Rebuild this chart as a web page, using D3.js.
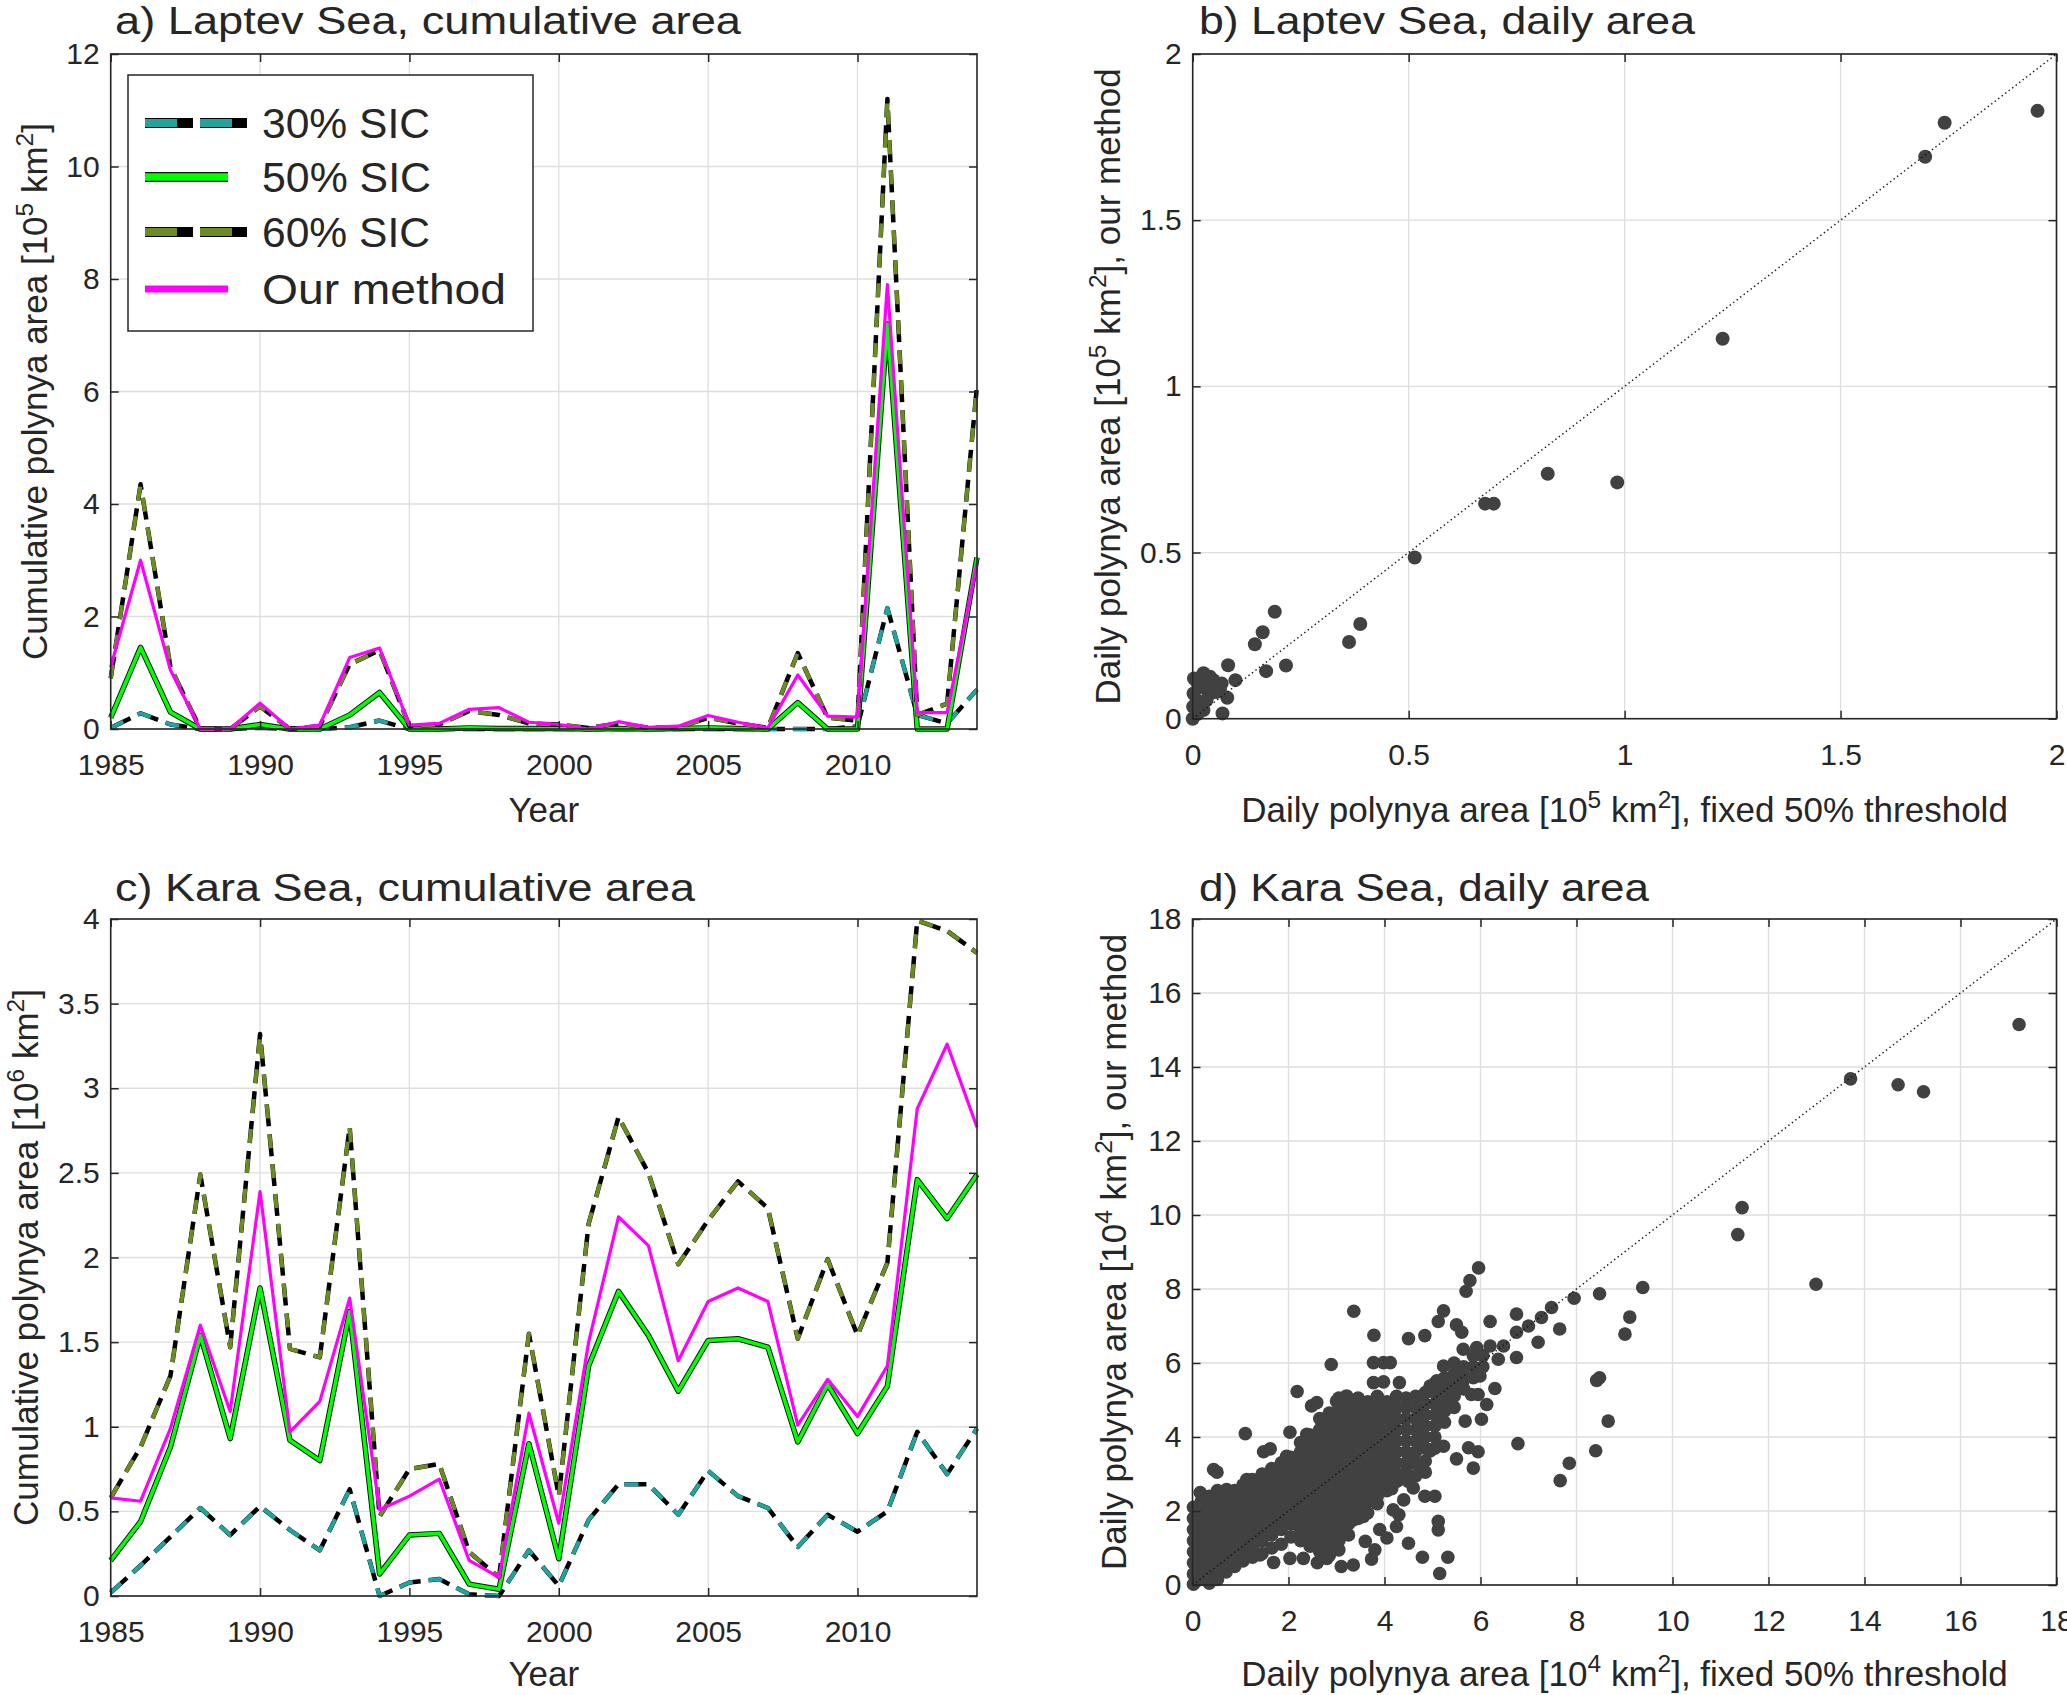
<!DOCTYPE html>
<html>
<head>
<meta charset="utf-8">
<script src="https://cdn.jsdelivr.net/npm/d3@7"></script>
<style>
  body { margin: 0; background: #fff; }
  svg { display: block; }
  text { font-family: "Liberation Sans", Arial, sans-serif; fill: #262626; }
</style>
</head>
<body>
<svg id="fig" width="2067" height="1695"></svg>
<script>
// ---- data ----
const years = [1985, 1986, 1987, 1988, 1989, 1990, 1991, 1992, 1993, 1994,
               1995, 1996, 1997, 1998, 1999, 2000, 2001, 2002, 2003, 2004,
               2005, 2006, 2007, 2008, 2009, 2010, 2011, 2012, 2013, 2014];
const yearTicks = [1985, 1990, 1995, 2000, 2005, 2010];

// Laptev Sea, cumulative area [10^5 km^2]
const laptev30 = [0.02, 0.28, 0.08, 0, 0, 0.02, 0, 0, 0.03, 0.15, 0, 0, 0, 0, 0,
                  0, 0, 0, 0, 0, 0, 0, 0, 0, 0, 0.05, 2.15, 0.25, 0.1, 0.7];
const laptev50 = [0.2, 1.45, 0.3, 0, 0, 0.08, 0, 0, 0.25, 0.65, 0, 0, 0.02, 0.01, 0.01,
                  0.01, 0, 0.01, 0, 0.01, 0.02, 0.01, 0, 0.47, 0, 0, 7.2, 0, 0, 3.05];
const laptev60 = [0.9, 4.35, 1.1, 0, 0, 0.4, 0, 0.05, 1.15, 1.4, 0.05, 0.08, 0.32, 0.25, 0.1,
                  0.08, 0.02, 0.1, 0.02, 0.03, 0.2, 0.1, 0.02, 1.35, 0.2, 0.15, 11.2, 0.25, 0.45, 6.1];
const laptevOurs = [1.1, 3.0, 1.05, 0, 0, 0.46, 0, 0.07, 1.27, 1.44, 0.07, 0.1, 0.35, 0.38, 0.12,
                    0.08, 0, 0.13, 0.03, 0.05, 0.24, 0.12, 0.02, 0.96, 0.23, 0.21, 7.9, 0.29, 0.29, 2.95];
const laptevCumTicks = [0, 2, 4, 6, 8, 10, 12];

// Kara Sea, cumulative area [10^6 km^2]
const kara30 = [0.02, 0.18, 0.35, 0.52, 0.36, 0.53, 0.39, 0.27, 0.63, 0.0, 0.08, 0.1, 0.01, 0.0, 0.27,
                0.06, 0.45, 0.66, 0.66, 0.48, 0.74, 0.59, 0.52, 0.29, 0.48, 0.38, 0.5, 0.97, 0.72, 0.99];
const kara50 = [0.21, 0.44, 0.88, 1.54, 0.93, 1.82, 0.92, 0.8, 1.68, 0.13, 0.36, 0.37, 0.07, 0.04, 0.9,
                0.22, 1.36, 1.8, 1.54, 1.21, 1.51, 1.52, 1.47, 0.91, 1.25, 0.96, 1.24, 2.46, 2.23, 2.49];
const kara60 = [0.58, 0.88, 1.3, 2.49, 1.47, 3.32, 1.46, 1.41, 2.77, 0.47, 0.75, 0.78, 0.26, 0.11, 1.55,
                0.59, 2.2, 2.83, 2.5, 1.96, 2.22, 2.45, 2.29, 1.52, 1.99, 1.54, 1.97, 3.99, 3.93, 3.8];
const karaOurs = [0.58, 0.56, 0.99, 1.6, 1.09, 2.39, 0.97, 1.15, 1.76, 0.51, 0.59, 0.69, 0.21, 0.11, 1.08,
                  0.43, 1.5, 2.24, 2.07, 1.39, 1.74, 1.82, 1.74, 1.01, 1.28, 1.06, 1.36, 2.88, 3.26, 2.77];
const karaCumTicks = [0, 0.5, 1, 1.5, 2, 2.5, 3, 3.5, 4];

// Laptev Sea, daily area [10^5 km^2]: [fixed 50% threshold, our method]
const laptevDaily = [
  [1.956, 1.829], [1.741, 1.793], [1.696, 1.691], [1.227, 1.143], [0.822, 0.737], [0.983, 0.711],
  [0.677, 0.647], [0.697, 0.647], [0.514, 0.485], [0.388, 0.285], [0.362, 0.231], [0.190, 0.322],
  [0.162, 0.260], [0.144, 0.224], [0.216, 0.160], [0.170, 0.143], [0.082, 0.161], [0.099, 0.116],
  [0.080, 0.063], [0.069, 0.016], [0.003, 0.121], [0.025, 0.137], [0.056, 0.106], [0.063, 0.086],
  [0.025, 0.026], [0.0, 0.0], [0.040, 0.076], [0.009, 0.056], [0.002, 0.076], [0.017, 0.096],
  [0.048, 0.116], [0.005, 0.036], [0.032, 0.056], [0.001, 0.036], [0.067, 0.106], [0.040, 0.126],
  [0.012, 0.015], [0.020, 0.100], [0.055, 0.080], [0.030, 0.090], [0.010, 0.110]
];
const laptevDailyTicks = [0, 0.5, 1, 1.5, 2];

// Kara Sea, daily area [10^4 km^2]: [fixed 50% threshold, our method]
const karaDaily = [
  // isolated points
  [17.22, 15.15], [13.71, 13.68], [14.70, 13.52], [15.23, 13.33], [11.45, 10.20], [11.36, 9.47],
  [12.99, 8.13], [9.38, 8.04], [9.11, 7.24], [9.01, 6.78], [8.48, 7.87], [7.95, 7.75],
  [8.42, 5.53], [8.48, 5.60], [8.66, 4.43], [8.40, 3.63], [7.85, 3.29], [7.66, 2.82],
  [6.78, 3.82], [5.96, 8.57], [5.78, 8.23], [5.70, 7.94], [3.36, 7.40], [2.89, 5.96],
  [2.18, 5.23], [1.10, 4.09], [5.15, 0.31], [5.32, 0.75], [4.79, 0.75],
  // upper spread near the diagonal
  [7.27, 7.23], [7.48, 7.50], [7.65, 6.92], [7.20, 6.56], [7.00, 7.00], [6.75, 6.83],
  [6.75, 7.32], [6.75, 6.15], [6.37, 6.10], [6.48, 6.46], [6.20, 6.46], [5.92, 6.42],
  [5.64, 6.37], [5.50, 5.92], [5.23, 5.92], [6.20, 7.12], [5.50, 7.03], [5.61, 6.83],
  [5.23, 7.41], [5.12, 7.12], [4.84, 6.74], [4.50, 6.66], [3.78, 6.75], [3.77, 6.01],
  [3.98, 6.01], [4.12, 6.01], [3.77, 5.47], [3.98, 5.49], [4.31, 5.47], [4.95, 5.38],
  [5.09, 5.52],
  // lower spread
  [6.02, 4.48], [5.68, 4.43], [6.13, 4.88], [6.30, 5.31], [5.81, 5.15], [5.95, 5.15],
  [5.64, 5.52], [5.99, 5.65], [5.75, 3.71], [5.95, 3.60], [5.85, 3.16], [5.50, 3.41],
  [5.23, 3.75], [4.95, 3.62], [4.74, 3.20], [4.60, 3.30], [4.32, 2.85], [4.18, 2.03],
  [4.25, 1.58], [4.60, 2.62], [4.84, 2.40], [5.05, 2.40], [5.12, 1.72], [5.12, 1.49],
  [4.50, 1.13], [4.05, 1.27], [3.60, 1.18], [3.56, 1.85], [3.35, 1.76], [3.73, 0.70],
  [3.35, 0.54], [2.80, 0.72], [2.31, 0.72], [2.03, 0.72], [1.69, 0.61], [1.41, 0.81],
  [4.40, 2.30], [4.30, 1.90], [3.90, 1.50], [3.80, 0.95], [3.10, 0.50], [2.60, 0.60],
  [4.15, 2.60], [4.50, 2.80], [4.65, 2.95], [4.85, 3.05], [4.85, 3.35], [5.05, 3.70],
  // upper edge of the cloud
  [0.44, 3.12], [0.51, 3.05], [0.16, 2.50], [0.71, 2.58], [1.13, 2.85], [1.48, 3.60],
  [1.62, 3.68], [1.96, 3.48], [2.03, 4.13], [2.38, 4.07], [2.48, 4.84], [2.59, 4.93],
  [3.00, 4.97], [3.21, 5.11],
  // dense body
  [0.02, 0.02], [0.02, 0.30], [0.02, 0.60], [0.02, 0.90], [0.02, 1.20], [0.02, 1.50], [0.02, 1.80], [0.02, 2.10],
  [0.18, 0.15], [0.18, 0.45], [0.18, 0.75], [0.18, 1.05], [0.18, 1.35], [0.18, 1.65], [0.18, 1.95], [0.18, 2.25],
  [0.35, 0.05], [0.35, 0.30], [0.35, 0.60], [0.35, 0.90], [0.35, 1.20], [0.35, 1.50], [0.35, 1.80], [0.35, 2.10], [0.35, 2.40],
  [0.52, 0.15], [0.52, 0.45], [0.52, 0.75], [0.52, 1.05], [0.52, 1.35], [0.52, 1.65], [0.52, 1.95], [0.52, 2.25], [0.52, 2.55],
  [0.70, 0.35], [0.70, 0.60], [0.70, 0.90], [0.70, 1.20], [0.70, 1.50], [0.70, 1.80], [0.70, 2.10], [0.70, 2.40],
  [0.88, 0.50], [0.88, 0.75], [0.88, 1.05], [0.88, 1.35], [0.88, 1.65], [0.88, 1.95], [0.88, 2.25], [0.88, 2.55],
  [1.05, 0.65], [1.05, 0.90], [1.05, 1.20], [1.05, 1.50], [1.05, 1.80], [1.05, 2.10], [1.05, 2.40], [1.05, 2.70],
  [1.25, 0.75], [1.25, 1.05], [1.25, 1.35], [1.25, 1.65], [1.25, 1.95], [1.25, 2.25], [1.25, 2.55], [1.25, 2.85],
  [1.45, 0.85], [1.45, 1.20], [1.45, 1.50], [1.45, 1.80], [1.45, 2.10], [1.45, 2.40], [1.45, 2.70], [1.45, 3.00],
  [1.65, 1.00], [1.65, 1.35], [1.65, 1.65], [1.65, 1.95], [1.65, 2.25], [1.65, 2.55], [1.65, 2.85], [1.65, 3.15],
  [1.85, 1.10], [1.85, 1.50], [1.85, 1.80], [1.85, 2.10], [1.85, 2.40], [1.85, 2.70], [1.85, 3.00], [1.85, 3.30],
  [2.05, 1.30], [2.05, 1.65], [2.05, 1.95], [2.05, 2.25], [2.05, 2.55], [2.05, 2.85], [2.05, 3.15], [2.05, 3.45],
  [2.25, 1.20], [2.25, 1.50], [2.25, 1.80], [2.25, 2.10], [2.25, 2.40], [2.25, 2.70], [2.25, 3.00], [2.25, 3.30], [2.25, 3.60], [2.25, 3.85],
  [2.45, 1.05], [2.45, 1.35], [2.45, 1.65], [2.45, 1.95], [2.45, 2.25], [2.45, 2.55], [2.45, 2.85], [2.45, 3.15], [2.45, 3.45], [2.45, 3.75], [2.45, 4.05],
  [2.65, 0.90], [2.65, 1.20], [2.65, 1.50], [2.65, 1.80], [2.65, 2.10], [2.65, 2.40], [2.65, 2.70], [2.65, 3.00], [2.65, 3.30], [2.65, 3.60], [2.65, 3.90], [2.65, 4.20], [2.65, 4.50],
  [2.85, 0.80], [2.85, 1.05], [2.85, 1.35], [2.85, 1.65], [2.85, 1.95], [2.85, 2.25], [2.85, 2.55], [2.85, 2.85], [2.85, 3.15], [2.85, 3.45], [2.85, 3.75], [2.85, 4.05], [2.85, 4.35], [2.85, 4.65],
  [3.05, 0.95], [3.05, 1.20], [3.05, 1.50], [3.05, 1.80], [3.05, 2.10], [3.05, 2.40], [3.05, 2.70], [3.05, 3.00], [3.05, 3.30], [3.05, 3.60], [3.05, 3.90], [3.05, 4.20], [3.05, 4.50], [3.05, 4.80], [3.05, 5.05],
  [3.25, 1.35], [3.25, 1.65], [3.25, 1.95], [3.25, 2.25], [3.25, 2.55], [3.25, 2.85], [3.25, 3.15], [3.25, 3.45], [3.25, 3.75], [3.25, 4.05], [3.25, 4.35], [3.25, 4.65], [3.25, 4.95],
  [3.45, 1.80], [3.45, 2.10], [3.45, 2.40], [3.45, 2.70], [3.45, 3.00], [3.45, 3.30], [3.45, 3.60], [3.45, 3.90], [3.45, 4.20], [3.45, 4.50], [3.45, 4.80], [3.45, 5.05],
  [3.65, 1.95], [3.65, 2.25], [3.65, 2.55], [3.65, 2.85], [3.65, 3.15], [3.65, 3.45], [3.65, 3.75], [3.65, 4.05], [3.65, 4.35], [3.65, 4.65], [3.65, 4.95],
  [3.85, 2.20], [3.85, 2.40], [3.85, 2.70], [3.85, 3.00], [3.85, 3.30], [3.85, 3.60], [3.85, 3.90], [3.85, 4.20], [3.85, 4.50], [3.85, 4.80], [3.85, 5.10],
  [4.05, 2.55], [4.05, 2.85], [4.05, 3.15], [4.05, 3.45], [4.05, 3.75], [4.05, 4.05], [4.05, 4.35], [4.05, 4.65], [4.05, 4.95],
  [4.25, 2.80], [4.25, 3.00], [4.25, 3.30], [4.25, 3.60], [4.25, 3.90], [4.25, 4.20], [4.25, 4.50], [4.25, 4.80], [4.25, 5.10],
  [4.45, 3.05], [4.45, 3.30], [4.45, 3.60], [4.45, 3.90], [4.45, 4.20], [4.45, 4.50], [4.45, 4.80], [4.45, 5.05],
  [4.65, 3.30], [4.65, 3.60], [4.65, 3.90], [4.65, 4.20], [4.65, 4.50], [4.65, 4.80], [4.65, 5.10],
  [4.85, 3.70], [4.85, 4.00], [4.85, 4.30], [4.85, 4.60], [4.85, 4.90], [4.85, 5.20],
  [5.05, 4.00], [5.05, 4.30], [5.05, 4.60], [5.05, 4.90], [5.05, 5.20], [5.05, 5.45],
  [5.25, 4.40], [5.25, 4.70], [5.25, 5.00], [5.25, 5.30], [5.25, 5.60],
  [5.45, 4.80], [5.45, 5.10], [5.45, 5.40], [5.45, 5.70], [5.45, 6.00],
  [5.65, 5.30], [5.65, 5.60], [5.65, 5.90],
  [5.85, 5.60], [5.85, 5.90], [5.85, 6.20],
  [6.05, 5.90], [6.05, 6.20]
];
const karaDailyTicks = [0, 2, 4, 6, 8, 10, 12, 14, 16, 18];

const legendNames = ["30% SIC", "50% SIC", "60% SIC", "Our method"];

// ---- drawing ----
const svg = d3.select("#fig");
const INK = "#262626";
const TICK_FONT = 30;
const LABEL_FONT = 35;
const TITLE_FONT = "'Open Sans', 'Liberation Sans', sans-serif";

// plot areas in pixels
const boxA = { x0: 110.7, x1: 977, y0: 54, y1: 729 };
const boxB = { x0: 1192.7, x1: 2056.5, y0: 54, y1: 718.7 };
const boxC = { x0: 110.7, x1: 977, y0: 919, y1: 1596 };
const boxD = { x0: 1192.5, x1: 2056.5, y0: 919, y1: 1585 };

const fmt = d => String(d);

// frame of one panel: grid, data layer, then box and ticks on top
function makePanel(box, xDomain, yDomain, xTicks, yTicks) {
  const x = d3.scaleLinear().domain(xDomain).range([box.x0, box.x1]);
  const y = d3.scaleLinear().domain(yDomain).range([box.y1, box.y0]);
  const g = svg.append("g");

  const grid = g.append("g").attr("stroke", "#dedede").attr("stroke-width", 1.3);
  grid.selectAll(".gx").data(xTicks).join("line")
    .attr("x1", d => x(d)).attr("x2", d => x(d))
    .attr("y1", box.y0).attr("y2", box.y1);
  grid.selectAll(".gy").data(yTicks).join("line")
    .attr("x1", box.x0).attr("x2", box.x1)
    .attr("y1", d => y(d)).attr("y2", d => y(d));

  const data = g.append("g");
  const top = g.append("g");
  return { x, y, g, data, top, box };
}

function finishAxes(p, xTicks, yTicks) {
  const { x, y, top, box } = p;
  const styleAxis = sel => {
    sel.select(".domain").remove();
    sel.selectAll(".tick line").attr("stroke", INK).attr("stroke-width", 1.5);
    sel.selectAll("text").attr("font-size", TICK_FONT)
      .attr("font-family", "'Liberation Sans', Arial, sans-serif").attr("fill", INK);
  };
  top.append("g").attr("transform", `translate(0,${box.y1})`)
    .call(d3.axisBottom(x).tickValues(xTicks).tickSizeInner(-8).tickSizeOuter(0).tickPadding(25).tickFormat(fmt))
    .call(styleAxis);
  top.append("g").attr("transform", `translate(0,${box.y0})`)
    .call(d3.axisTop(x).tickValues(xTicks).tickSizeInner(-8).tickSizeOuter(0).tickFormat(""))
    .call(styleAxis);
  top.append("g").attr("transform", `translate(${box.x0},0)`)
    .call(d3.axisLeft(y).tickValues(yTicks).tickSizeInner(-8).tickSizeOuter(0).tickPadding(11).tickFormat(fmt))
    .call(styleAxis);
  top.append("g").attr("transform", `translate(${box.x1},0)`)
    .call(d3.axisRight(y).tickValues(yTicks).tickSizeInner(-8).tickSizeOuter(0).tickFormat(""))
    .call(styleAxis);
  top.append("rect")
    .attr("x", box.x0).attr("y", box.y0)
    .attr("width", box.x1 - box.x0).attr("height", box.y1 - box.y0)
    .attr("fill", "none").attr("stroke", INK).attr("stroke-width", 1.6);
}

function title(xp, yp, str, len) {
  svg.append("text").attr("x", xp).attr("y", yp)
    .attr("font-family", TITLE_FONT).attr("font-size", 38).attr("fill", "#000")
    .attr("textLength", len).attr("lengthAdjust", "spacingAndGlyphs")
    .text(str);
}

// text with superscripts: parts = [[str, isSup], ...]
function richText(sel, parts) {
  const lift = Math.round(LABEL_FONT * 0.4);
  let raised = false;
  parts.forEach(([s, sup]) => {
    const t = sel.append("tspan").text(s);
    if (sup) {
      t.attr("font-size", LABEL_FONT * 0.7).attr("dy", -lift);
      raised = true;
    } else if (raised) {
      t.attr("dy", lift);
      raised = false;
    }
  });
}

function xLabel(p, yp, parts) {
  const t = svg.append("text").attr("x", (p.box.x0 + p.box.x1) / 2).attr("y", yp)
    .attr("text-anchor", "middle").attr("font-size", LABEL_FONT);
  richText(t, parts);
}
function yLabel(p, xp, parts) {
  const cy = (p.box.y0 + p.box.y1) / 2;
  const t = svg.append("text").attr("transform", `translate(${xp},${cy}) rotate(-90)`)
    .attr("text-anchor", "middle").attr("font-size", LABEL_FONT);
  richText(t, parts);
}

// series styles
const TEAL = "#21a39e", OLIVE = "#6b8c23", GREEN = "#00ff00", MAGENTA = "#ff00ff";

function dashedSeries(p, vals, color) {
  const line = d3.line().x((d, i) => p.x(years[i])).y(d => p.y(d));
  p.data.append("path").attr("d", line(vals)).attr("fill", "none")
    .attr("stroke", "#000").attr("stroke-width", 4.5).attr("stroke-dasharray", "22 8")
    .attr("stroke-linejoin", "round");
  p.data.append("path").attr("d", line(vals)).attr("fill", "none")
    .attr("stroke", color).attr("stroke-width", 4).attr("stroke-dasharray", "14 16")
    .attr("stroke-linejoin", "round");
}
function greenSeries(p, vals) {
  const line = d3.line().x((d, i) => p.x(years[i])).y(d => p.y(d));
  p.data.append("path").attr("d", line(vals)).attr("fill", "none")
    .attr("stroke", "#111").attr("stroke-width", 5.5).attr("stroke-linejoin", "round");
  p.data.append("path").attr("d", line(vals)).attr("fill", "none")
    .attr("stroke", GREEN).attr("stroke-width", 3.6).attr("stroke-linejoin", "round");
}
function magentaSeries(p, vals) {
  const line = d3.line().x((d, i) => p.x(years[i])).y(d => p.y(d));
  p.data.append("path").attr("d", line(vals)).attr("fill", "none")
    .attr("stroke", MAGENTA).attr("stroke-width", 3.2).attr("stroke-linejoin", "round");
}

function scatter(p, pts, r) {
  p.data.selectAll(".dot").data(pts).join("circle")
    .attr("cx", d => p.x(d[0])).attr("cy", d => p.y(d[1]))
    .attr("r", r).attr("fill", "#414141");
  const dom = p.x.domain();
  p.data.append("line")
    .attr("x1", p.x(dom[0])).attr("y1", p.y(dom[0]))
    .attr("x2", p.x(dom[1])).attr("y2", p.y(dom[1]))
    .attr("stroke", "#111").attr("stroke-width", 1.4).attr("stroke-dasharray", "1.4 3");
}

// ---- panel a ----
const pA = makePanel(boxA, [1985, 2014], [0, 12], yearTicks, laptevCumTicks);
dashedSeries(pA, laptev30, TEAL);
greenSeries(pA, laptev50);
dashedSeries(pA, laptev60, OLIVE);
magentaSeries(pA, laptevOurs);
finishAxes(pA, yearTicks, laptevCumTicks);

// legend
const leg = svg.append("g");
leg.append("rect").attr("x", 128).attr("y", 75).attr("width", 405).attr("height", 256)
  .attr("fill", "#fff").attr("stroke", INK).attr("stroke-width", 1.5);
const legendRows = [123, 177, 232, 289];
const legendWidths = [168, 169, 168, 244];
legendNames.forEach((name, i) => {
  const yy = legendRows[i];
  if (i === 0 || i === 2) {
    leg.append("line").attr("x1", 145).attr("x2", 247).attr("y1", yy).attr("y2", yy)
      .attr("stroke", "#000").attr("stroke-width", 10).attr("stroke-dasharray", "48 7");
    leg.append("line").attr("x1", 145).attr("x2", 247).attr("y1", yy).attr("y2", yy)
      .attr("stroke", i === 0 ? TEAL : OLIVE).attr("stroke-width", 8).attr("stroke-dasharray", "32 23");
  } else if (i === 1) {
    leg.append("line").attr("x1", 145).attr("x2", 228).attr("y1", yy).attr("y2", yy)
      .attr("stroke", "#111").attr("stroke-width", 10);
    leg.append("line").attr("x1", 145).attr("x2", 228).attr("y1", yy).attr("y2", yy)
      .attr("stroke", GREEN).attr("stroke-width", 7.5);
  } else {
    leg.append("line").attr("x1", 145).attr("x2", 228).attr("y1", yy).attr("y2", yy)
      .attr("stroke", MAGENTA).attr("stroke-width", 7);
  }
  leg.append("text").attr("x", 262).attr("y", yy).attr("dy", "0.36em")
    .attr("font-family", TITLE_FONT).attr("font-size", 43).attr("fill", "#000")
    .attr("textLength", legendWidths[i]).attr("lengthAdjust", "spacingAndGlyphs")
    .text(name);
});

title(115, 34, "a) Laptev Sea, cumulative area", 626);
xLabel(pA, 822, [["Year", false]]);
yLabel(pA, 47, [["Cumulative polynya area [10", false], ["5", true], [" km", false], ["2", true], ["]", false]]);

// ---- panel b ----
const pB = makePanel(boxB, [0, 2], [0, 2], laptevDailyTicks, laptevDailyTicks);
scatter(pB, laptevDaily, 7);
finishAxes(pB, laptevDailyTicks, laptevDailyTicks);
title(1199, 34, "b) Laptev Sea, daily area", 496);
xLabel(pB, 822, [["Daily polynya area [10", false], ["5", true], [" km", false], ["2", true], ["], fixed 50% threshold", false]]);
yLabel(pB, 1120, [["Daily polynya area [10", false], ["5", true], [" km", false], ["2", true], ["], our method", false]]);

// ---- panel c ----
const pC = makePanel(boxC, [1985, 2014], [0, 4], yearTicks, karaCumTicks);
dashedSeries(pC, kara30, TEAL);
greenSeries(pC, kara50);
dashedSeries(pC, kara60, OLIVE);
magentaSeries(pC, karaOurs);
finishAxes(pC, yearTicks, karaCumTicks);
title(115, 901, "c) Kara Sea, cumulative area", 580);
xLabel(pC, 1686, [["Year", false]]);
yLabel(pC, 38, [["Cumulative polynya area [10", false], ["6", true], [" km", false], ["2", true], ["]", false]]);

// ---- panel d ----
const pD = makePanel(boxD, [0, 18], [0, 18], karaDailyTicks, karaDailyTicks);
scatter(pD, karaDaily, 6.8);
finishAxes(pD, karaDailyTicks, karaDailyTicks);
title(1199, 901, "d) Kara Sea, daily area", 450);
xLabel(pD, 1686, [["Daily polynya area [10", false], ["4", true], [" km", false], ["2", true], ["], fixed 50% threshold", false]]);
yLabel(pD, 1126, [["Daily polynya area [10", false], ["4", true], [" km", false], ["2", true], ["], our method", false]]);
</script>
</body>
</html>
